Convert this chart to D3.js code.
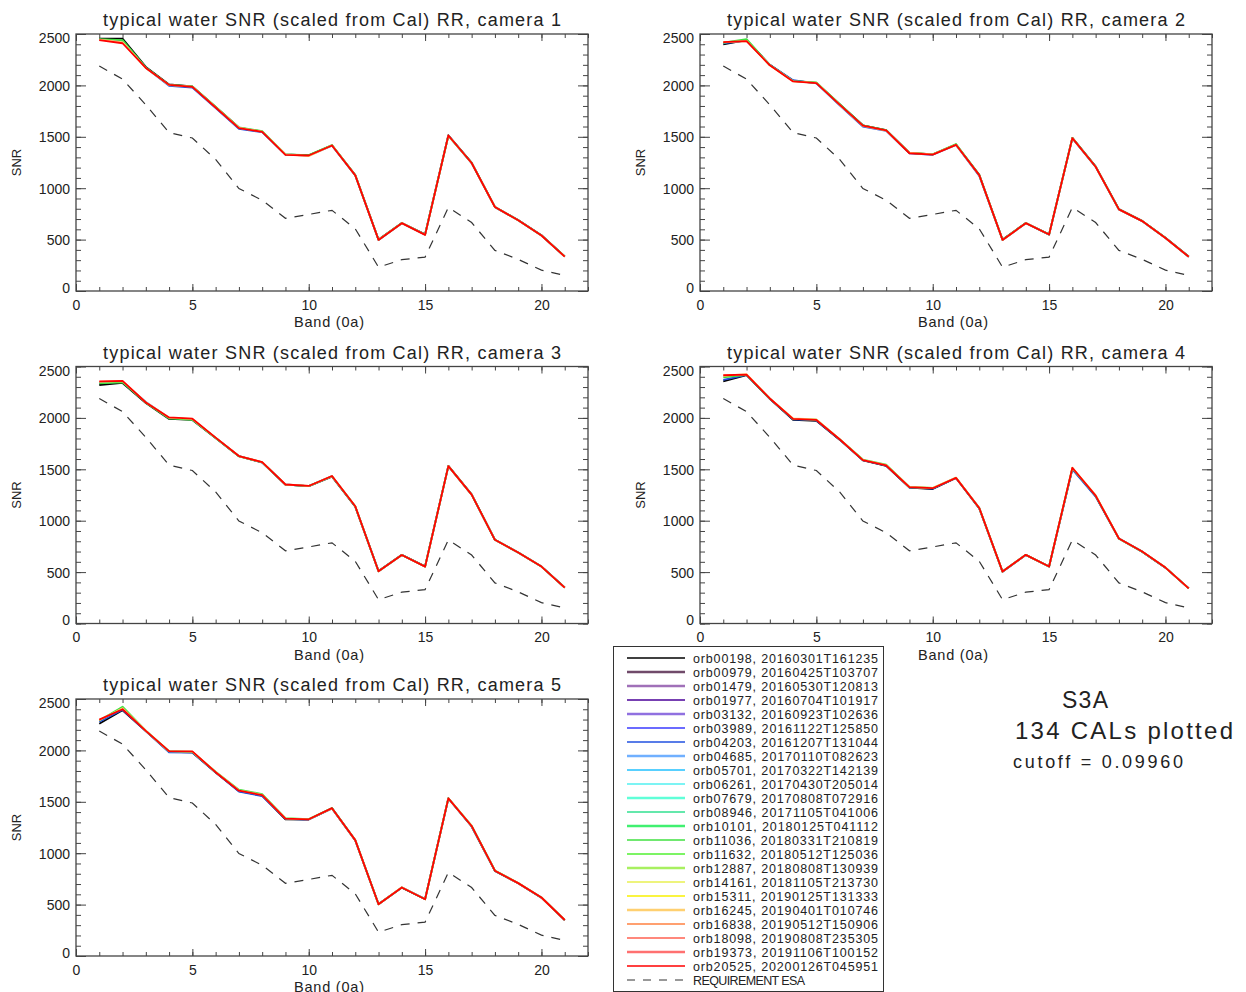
<!DOCTYPE html>
<html>
<head>
<meta charset="utf-8">
<script src="https://cdn.jsdelivr.net/npm/d3@7"></script>
<style>
  html, body { margin: 0; padding: 0; background: #fff; }
  svg { display: block; }
  text { font-family: "Liberation Sans", "DejaVu Sans", sans-serif; fill: #222; }
</style>
</head>
<body>
<svg id="chart" width="1246" height="992"></svg>
<script>
// ---------------- DATA ----------------
const bands = [1,2,3,4,5,6,7,8,9,10,11,12,13,14,15,16,17,18,19,20,21];
const xTicksMajor = [0,5,10,15,20];
const yTicksMajor = [0,500,1000,1500,2000,2500];
const cameras = ["camera 1","camera 2","camera 3","camera 4","camera 5"];

const esaRequirement = [2188,2061,1811,1541,1488,1280,997,883,707,745,785,605,232,305,330,812,666,395,308,203,152];

const legendOrbits = [
  "orb00198, 20160301T161235","orb00979, 20160425T103707","orb01479, 20160530T120813",
  "orb01977, 20160704T101917","orb03132, 20160923T102636","orb03989, 20161122T125850",
  "orb04203, 20161207T131044","orb04685, 20170110T082623","orb05701, 20170322T142139",
  "orb06261, 20170430T205014","orb07679, 20170808T072916","orb08946, 20171105T041006",
  "orb10101, 20180125T041112","orb11036, 20180331T210819","orb11632, 20180512T125036",
  "orb12887, 20180808T130939","orb14161, 20181105T213730","orb15311, 20190125T131333",
  "orb16245, 20190401T010746","orb16838, 20190512T150906","orb18098, 20190808T235305",
  "orb19373, 20191106T100152","orb20525, 20200126T045951"
];
const legendColors = ["#000000","#704a6a","#a070b8","#4a0098","#9070e0","#3a3aff","#2050e0","#70b0ff",
  "#20c0ff","#50f0f0","#60ffd8","#30e090","#40f070","#40e040","#50f030","#a8f060","#e8f050",
  "#f8f000","#ffd070","#ff8040","#ff6050","#ff7070","#ff0000"];
const legendWidths = [1.5,2.5,2.5,1.5,2.5,1.5,1.5,2.5,1.5,1.5,2.5,1.5,2.5,1.5,1.5,2.5,1.5,1.5,2.5,1.5,1.5,2.5,1.5];

// plotted orbits per camera (index into legend)
const plottedOrbits = [0, 6, 13, 18, 22];

const cam1_orb00198 = [2455,2455,2180,2010,1990,1790,1590,1550,1330,1320,1418,1128,500,662,552,1515,1248,818,690,542,337];
const cam1_orb04203 = [2445,2430,2172,1995,1978,1780,1578,1545,1327,1316,1414,1124,497,659,548,1512,1244,816,688,540,335];
const cam1_orb11036 = [2450,2440,2175,2005,1990,1792,1592,1556,1330,1322,1420,1127,499,661,549,1508,1247,818,689,541,336];
const cam1_orb16245 = [2445,2420,2168,2003,1988,1787,1588,1550,1330,1312,1417,1126,498,660,547,1512,1245,817,688,540,335];
const cam1_orb20525 = [2440,2410,2170,2005,1985,1785,1585,1548,1325,1318,1415,1125,497,660,546,1513,1245,817,688,540,335];

const cam2_orb00198 = [2400,2440,2200,2045,2025,1818,1612,1565,1345,1330,1425,1130,500,662,551,1490,1212,796,682,518,335];
const cam2_orb04203 = [2410,2435,2200,2050,2020,1805,1600,1558,1338,1325,1420,1120,496,659,548,1485,1207,793,679,515,332];
const cam2_orb11036 = [2415,2450,2198,2042,2028,1820,1610,1565,1343,1329,1430,1130,498,661,550,1489,1210,795,681,517,334];
const cam2_orb16245 = [2418,2432,2195,2040,2025,1812,1606,1560,1345,1330,1421,1126,497,660,549,1487,1209,794,680,516,333];
const cam2_orb20525 = [2420,2430,2196,2039,2022,1813,1608,1562,1340,1327,1422,1127,497,660,549,1487,1209,794,680,516,333];

const cam3_orb00198 = [2320,2340,2145,1990,1980,1805,1627,1568,1350,1336,1428,1135,510,668,556,1533,1256,815,691,555,350];
const cam3_orb04203 = [2340,2350,2155,2000,1985,1806,1628,1565,1352,1337,1433,1138,509,667,555,1530,1253,814,690,554,349];
const cam3_orb11036 = [2335,2345,2148,1995,1982,1804,1626,1568,1350,1336,1432,1139,508,666,554,1531,1254,814,690,554,349];
const cam3_orb16245 = [2350,2358,2152,2003,1990,1808,1629,1570,1352,1338,1434,1140,508,666,553,1531,1254,814,690,554,349];
const cam3_orb20525 = [2355,2360,2150,2005,1992,1808,1629,1570,1352,1338,1435,1140,508,666,553,1531,1254,814,690,554,349];

const cam4_orb00198 = [2355,2415,2185,1982,1972,1788,1588,1534,1322,1308,1415,1120,505,668,555,1505,1240,826,699,543,341];
const cam4_orb04203 = [2370,2418,2186,1985,1975,1789,1589,1535,1324,1312,1416,1122,504,667,554,1500,1235,826,699,543,341];
const cam4_orb11036 = [2395,2418,2188,1990,1982,1794,1595,1545,1328,1318,1418,1123,505,668,554,1512,1243,825,698,544,342];
const cam4_orb16245 = [2410,2425,2190,1995,1985,1793,1592,1540,1328,1320,1419,1125,505,668,554,1514,1248,827,700,545,342];
const cam4_orb20525 = [2415,2420,2189,1990,1980,1792,1590,1537,1326,1316,1417,1124,505,668,554,1515,1244,827,700,544,342];

const cam5_orb00198 = [2260,2390,2188,1985,1980,1785,1605,1560,1330,1328,1436,1125,505,665,554,1535,1260,828,707,567,349];
const cam5_orb04203 = [2280,2395,2189,1982,1978,1786,1600,1555,1333,1328,1436,1126,504,666,553,1530,1262,829,708,568,349];
const cam5_orb11036 = [2290,2425,2192,1992,1985,1792,1618,1575,1340,1331,1440,1128,503,667,552,1534,1268,832,710,570,351];
const cam5_orb16245 = [2295,2410,2191,1990,1988,1790,1612,1568,1338,1330,1435,1127,503,669,552,1533,1266,831,709,569,350];
const cam5_orb20525 = [2300,2400,2190,1993,1990,1788,1608,1565,1337,1330,1438,1127,503,667,552,1533,1265,830,709,569,350];

const cameraSeries = [
  [cam1_orb00198, cam1_orb04203, cam1_orb11036, cam1_orb16245, cam1_orb20525],
  [cam2_orb00198, cam2_orb04203, cam2_orb11036, cam2_orb16245, cam2_orb20525],
  [cam3_orb00198, cam3_orb04203, cam3_orb11036, cam3_orb16245, cam3_orb20525],
  [cam4_orb00198, cam4_orb04203, cam4_orb11036, cam4_orb16245, cam4_orb20525],
  [cam5_orb00198, cam5_orb04203, cam5_orb11036, cam5_orb16245, cam5_orb20525]
];

// ---------------- LAYOUT ----------------
const svg = d3.select("#chart");
const W = 512, H = 257;
const panelPos = [[76,34],[700,34],[76,366.5],[700,366.5],[76,699]];
const frameColor = "#444";

const x = d3.scaleLinear().domain([0,22]).range([0,W]);
const y = d3.scaleLinear().domain([0,2500]).range([H,0]);
const line = d3.line().x((d,i)=>x(bands[i])).y(d=>y(d));

cameras.forEach((cam, ci) => {
  const [px, py] = panelPos[ci];
  const g = svg.append("g").attr("transform", `translate(${px},${py})`);

  const styleAxis = sel => {
    sel.select(".domain").remove();
    sel.selectAll("line").attr("stroke", frameColor).attr("stroke-width", 1);
    sel.selectAll("text").attr("fill", "#222").style("font-family", "Liberation Sans, DejaVu Sans, sans-serif").style("font-size", "14px");
  };
  // minor ticks
  g.append("g").attr("transform", `translate(0,${H})`)
    .call(d3.axisBottom(x).tickValues(d3.range(0,23)).tickSize(-4).tickFormat("")).call(styleAxis);
  g.append("g")
    .call(d3.axisTop(x).tickValues(d3.range(0,23)).tickSize(-4).tickFormat("")).call(styleAxis);
  g.append("g")
    .call(d3.axisLeft(y).tickValues(d3.range(0,2501,100)).tickSize(-5).tickFormat("")).call(styleAxis);
  g.append("g").attr("transform", `translate(${W},0)`)
    .call(d3.axisRight(y).tickValues(d3.range(0,2501,100)).tickSize(-5).tickFormat("")).call(styleAxis);

  // major ticks + labels
  g.append("g").attr("transform", `translate(0,${H})`)
    .call(d3.axisBottom(x).tickValues(xTicksMajor).tickSize(-7).tickPadding(9).tickFormat(d3.format("d"))).call(styleAxis);
  g.append("g")
    .call(d3.axisTop(x).tickValues(xTicksMajor).tickSize(-7).tickFormat("")).call(styleAxis);
  const yl = g.append("g")
    .call(d3.axisLeft(y).tickValues(yTicksMajor).tickSize(-10).tickPadding(6).tickFormat(d3.format("d"))).call(styleAxis);
  yl.selectAll(".tick text").attr("dy", d => d === 2500 ? "0.62em" : (d === 0 ? "0.1em" : "0.36em"));
  g.append("g").attr("transform", `translate(${W},0)`)
    .call(d3.axisRight(y).tickValues(yTicksMajor).tickSize(-10).tickFormat("")).call(styleAxis);

  // frame
  g.append("rect").attr("x",0).attr("y",0).attr("width",W).attr("height",H)
    .attr("fill","none").attr("stroke",frameColor).attr("stroke-width",1.3);

  // requirement
  g.append("path").datum(esaRequirement).attr("d", line)
    .attr("fill","none").attr("stroke","#333").attr("stroke-width",1.2).attr("stroke-dasharray","9,8");

  // series
  cameraSeries[ci].forEach((vals, si) => {
    g.append("path").datum(vals).attr("d", line)
      .attr("fill","none").attr("stroke", legendColors[plottedOrbits[si]])
      .attr("stroke-width", 1.8).attr("stroke-linejoin","round");
  });

  // title
  g.append("text").attr("x", W/2).attr("y", -8).attr("text-anchor","middle")
    .attr("textLength", 458).attr("lengthAdjust","spacing")
    .style("font-size","18px")
    .text(`typical water SNR (scaled from Cal) RR, ${cam}`);
  // x label
  g.append("text").attr("x", W/2 - 3).attr("y", H + 36).attr("text-anchor","middle")
    .style("font-size","14.5px").attr("textLength", 70).attr("lengthAdjust","spacing")
    .text("Band (0a)");
  // y label
  g.append("text").attr("transform", `translate(${-55},${H/2}) rotate(-90)`)
    .attr("text-anchor","middle").style("font-size","13px").text("SNR");
});

// ---------------- LEGEND ----------------
const lg = svg.append("g");
lg.append("rect").attr("x",613.5).attr("y",646.5).attr("width",270).attr("height",345)
  .attr("fill","#fff").attr("stroke","#333").attr("stroke-width",1);
const rowY = d3.scaleLinear().domain([0,23]).range([658,980]);
legendOrbits.forEach((name, i) => {
  lg.append("line").attr("x1",627).attr("x2",685).attr("y1",rowY(i)).attr("y2",rowY(i))
    .attr("stroke", legendColors[i]).attr("stroke-width", legendWidths[i]);
  lg.append("text").attr("x",693).attr("y",rowY(i)).attr("dy","0.36em")
    .style("font-size","12.5px").attr("textLength",185).attr("lengthAdjust","spacing").text(name);
});
lg.append("line").attr("x1",627).attr("x2",685).attr("y1",rowY(23)).attr("y2",rowY(23))
  .attr("stroke","#333").attr("stroke-width",1).attr("stroke-dasharray","8,8");
lg.append("text").attr("x",693).attr("y",rowY(23)).attr("dy","0.36em")
  .style("font-size","12.5px").attr("textLength",112).attr("lengthAdjust","spacing").text("REQUIREMENT ESA");

// ---------------- ANNOTATIONS ----------------
svg.append("text").attr("x",1085).attr("y",708).attr("text-anchor","middle")
  .style("font-size","23px").attr("textLength",46).attr("lengthAdjust","spacing").text("S3A");
svg.append("text").attr("x",1015).attr("y",739)
  .style("font-size","24px").attr("textLength",218).attr("lengthAdjust","spacing").text("134 CALs plotted");
svg.append("text").attr("x",1013).attr("y",768)
  .style("font-size","18px").attr("textLength",170).attr("lengthAdjust","spacing").text("cutoff = 0.09960");
</script>
</body>
</html>
